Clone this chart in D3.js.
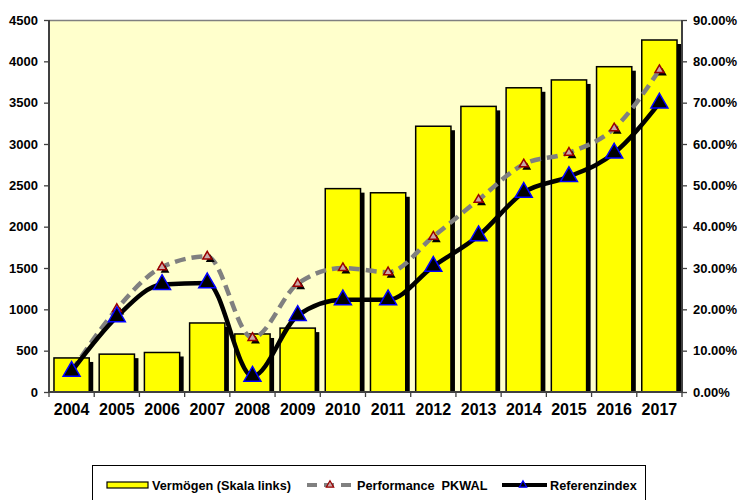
<!DOCTYPE html>
<html>
<head>
<meta charset="utf-8">
<script src="https://cdn.jsdelivr.net/npm/d3@7"></script>
<style>
  body { margin: 0; background: #fff; }
  text { font-family: "Liberation Sans", Arial, sans-serif; font-weight: bold; fill: #000; }
</style>
</head>
<body>
<svg id="chart" width="738" height="500"></svg>
<script>
// data
const years = ["2004","2005","2006","2007","2008","2009","2010","2011","2012","2013","2014","2015","2016","2017"];
const vermoegen = [412, 458, 478, 835, 702, 773, 2460, 2410, 3215, 3455, 3680, 3775, 3935, 4258];
const performance = [0.050, 0.201, 0.302, 0.328, 0.131, 0.262, 0.300, 0.290, 0.376, 0.465, 0.551, 0.579, 0.638, 0.779];
const referenz = [0.050, 0.182, 0.260, 0.264, 0.038, 0.185, 0.223, 0.223, 0.304, 0.378, 0.483, 0.521, 0.578, 0.699];
const leftTicks = d3.range(0, 4501, 500);
const rightTicks = d3.range(0, 0.9001, 0.1);

const svg = d3.select("#chart");
const pLeft = 49, pRight = 682, pTop = 20, pBottom = 392;

const x = d3.scaleBand().domain(years).range([pLeft, pRight]).paddingInner(0.22).paddingOuter(0.11);
const yL = d3.scaleLinear().domain([0, 4500]).range([pBottom, pTop]);
const yR = d3.scaleLinear().domain([0, 0.9]).range([pBottom, pTop]);
const cx = d => x(d) + x.bandwidth() / 2;

// plot background
svg.append("rect")
  .attr("x", pLeft).attr("y", pTop)
  .attr("width", pRight - pLeft).attr("height", pBottom - pTop)
  .attr("fill", "#FFFFCC");
svg.append("line")
  .attr("x1", pLeft).attr("x2", pRight).attr("y1", pTop + 0.5).attr("y2", pTop + 0.5)
  .attr("stroke", "#808080").attr("stroke-width", 1.5);

// bars with shadow
const bars = svg.append("g");
bars.selectAll("rect.shadow")
  .data(vermoegen)
  .join("rect")
    .attr("class", "shadow")
    .attr("x", (d, i) => x(years[i]) + 4)
    .attr("y", d => yL(d) + 4)
    .attr("width", x.bandwidth())
    .attr("height", d => Math.max(0, pBottom - yL(d) - 4))
    .attr("fill", "#000");
bars.selectAll("rect.bar")
  .data(vermoegen)
  .join("rect")
    .attr("class", "bar")
    .attr("x", (d, i) => x(years[i]))
    .attr("y", d => yL(d))
    .attr("width", x.bandwidth())
    .attr("height", d => pBottom - yL(d))
    .attr("fill", "#FFFF00")
    .attr("stroke", "#000")
    .attr("stroke-width", 1.5);

// axes
const axisL = svg.append("g").attr("transform", `translate(${pLeft},0)`)
  .call(d3.axisLeft(yL).tickValues(leftTicks).tickSize(5).tickPadding(6).tickFormat(d3.format("d")));
const axisR = svg.append("g").attr("transform", `translate(${pRight},0)`)
  .call(d3.axisRight(yR).tickValues(rightTicks).tickSize(5).tickPadding(6).tickFormat(d3.format(".2%")));
const axisB = svg.append("g").attr("transform", `translate(0,${pBottom})`)
  .call(d3.axisBottom(x).tickSize(0).tickPadding(12));

[axisL, axisR, axisB].forEach(g => {
  g.selectAll(".domain").attr("stroke", "#404040").attr("stroke-width", 2);
  g.selectAll(".tick line").attr("stroke", "#404040").attr("stroke-width", 1.3);
});
axisL.selectAll("text").style("font-size", "13px");
axisR.selectAll("text").style("font-size", "13px");
axisB.selectAll("text").style("font-size", "16px");
axisL.select(".domain").attr("d", `M0,${pTop}V${pBottom}`);
axisR.select(".domain").attr("d", `M0,${pTop}V${pBottom}`);
axisB.select(".domain").attr("d", `M${pLeft},0H${pRight}`);

// category separator ticks on the x axis
const step = x.step();
svg.append("g").selectAll("line")
  .data(d3.range(years.length + 1))
  .join("line")
    .attr("x1", i => pLeft + i * step).attr("x2", i => pLeft + i * step)
    .attr("y1", pBottom).attr("y2", pBottom + 5)
    .attr("stroke", "#404040").attr("stroke-width", 1.3);

// lines (slightly smoothed, like the original)
const lineGen = d3.line().x((d, i) => cx(years[i])).y(d => yR(d)).curve(d3.curveMonotoneX);

svg.append("path")
  .attr("d", lineGen(performance))
  .attr("fill", "none")
  .attr("stroke", "#808080")
  .attr("stroke-width", 4.5)
  .attr("stroke-dasharray", "11,6");

svg.append("path")
  .attr("d", lineGen(referenz))
  .attr("fill", "none")
  .attr("stroke", "#000")
  .attr("stroke-width", 4.5);

// markers
const triSmall = d3.symbol().type(d3.symbolTriangle).size(34);
const triBig = d3.symbol().type(d3.symbolTriangle).size(125);

const pm = svg.append("g");
pm.selectAll("path.sh")
  .data(performance)
  .join("path")
    .attr("class", "sh")
    .attr("d", triSmall)
    .attr("transform", (d, i) => `translate(${cx(years[i]) + 3},${yR(d) + 3})`)
    .attr("fill", "#000");
pm.selectAll("path.mk")
  .data(performance)
  .join("path")
    .attr("class", "mk")
    .attr("d", triSmall)
    .attr("transform", (d, i) => `translate(${cx(years[i])},${yR(d)})`)
    .attr("fill", "#C8A8A8")
    .attr("stroke", "#990000")
    .attr("stroke-width", 1.5);

svg.append("g").selectAll("path")
  .data(referenz)
  .join("path")
    .attr("d", triBig)
    .attr("transform", (d, i) => `translate(${cx(years[i])},${yR(d)})`)
    .attr("fill", "#000")
    .attr("stroke", "#0000FF")
    .attr("stroke-width", 1.5);

// legend
const lg = svg.append("g");
lg.append("rect")
  .attr("x", 92.5).attr("y", 465.5).attr("width", 553).attr("height", 45)
  .attr("fill", "#fff").attr("stroke", "#000").attr("stroke-width", 1);
const ly = 485;
lg.append("rect")
  .attr("x", 107).attr("y", ly - 3).attr("width", 41).attr("height", 6)
  .attr("fill", "#FFFF00").attr("stroke", "#000").attr("stroke-width", 1.2);
lg.append("text").attr("x", 152).attr("y", ly + 4.5).style("font-size", "12.7px").text("Vermögen (Skala links)");

lg.append("line")
  .attr("x1", 307).attr("x2", 352).attr("y1", ly).attr("y2", ly)
  .attr("stroke", "#808080").attr("stroke-width", 4).attr("stroke-dasharray", "10,7");
lg.append("path")
  .attr("d", d3.symbol().type(d3.symbolTriangle).size(24))
  .attr("transform", `translate(330,${ly})`)
  .attr("fill", "#C8A8A8").attr("stroke", "#990000").attr("stroke-width", 1.2);
lg.append("text").attr("x", 357).attr("y", ly + 4.5).style("font-size", "12.7px").attr("xml:space", "preserve").text("Performance  PKWAL");

lg.append("line")
  .attr("x1", 502).attr("x2", 547).attr("y1", ly).attr("y2", ly)
  .attr("stroke", "#000").attr("stroke-width", 4);
lg.append("path")
  .attr("d", d3.symbol().type(d3.symbolTriangle).size(24))
  .attr("transform", `translate(523,${ly})`)
  .attr("fill", "#000").attr("stroke", "#0000FF").attr("stroke-width", 1.2);
lg.append("text").attr("x", 550).attr("y", ly + 4.5).style("font-size", "12.7px").text("Referenzindex");
</script>
</body>
</html>
